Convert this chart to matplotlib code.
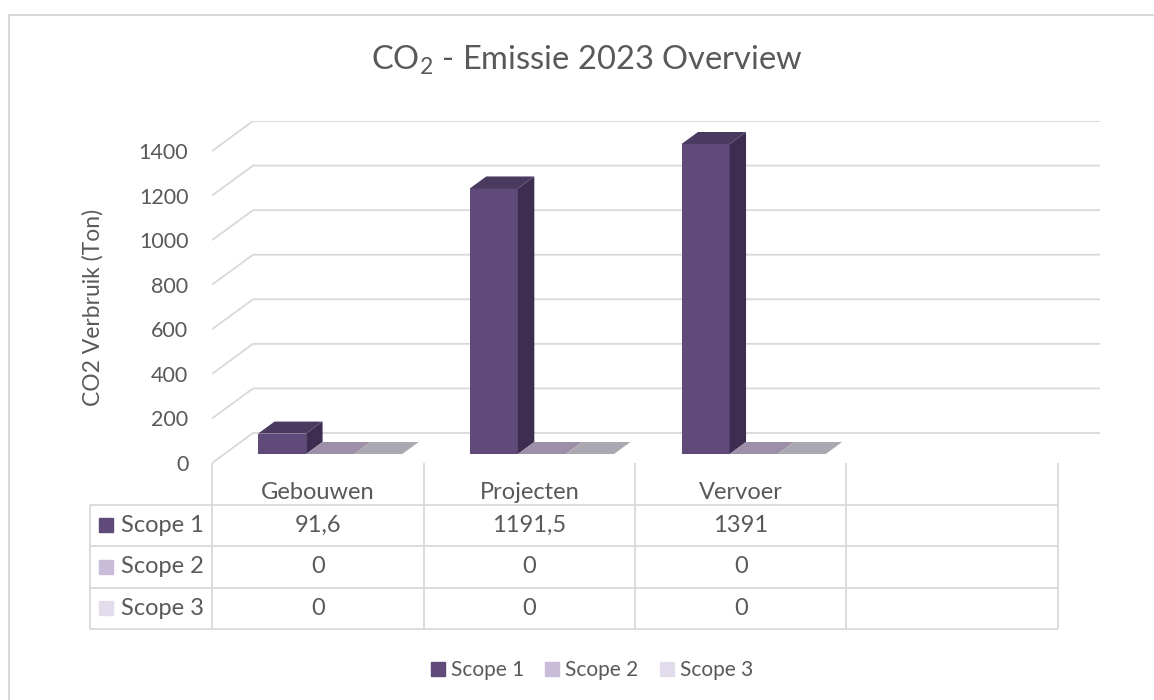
import matplotlib
matplotlib.use('Agg')
import matplotlib.pyplot as plt
from matplotlib.patches import Polygon, Patch
from matplotlib.lines import Line2D

plt.rcParams['font.family'] = ['Lato', 'DejaVu Sans']
plt.rcParams['mathtext.fontset'] = 'custom'
plt.rcParams['mathtext.rm'] = 'Lato'
plt.rcParams['mathtext.it'] = 'Lato:italic'

# data
categories = ['Gebouwen', 'Projecten', 'Vervoer']
series = ['Scope 1', 'Scope 2', 'Scope 3']
scope1 = [91.6, 1191.5, 1391]
scope2 = [0, 0, 0]
scope3 = [0, 0, 0]
yticks = [0, 200, 400, 600, 800, 1000, 1200, 1400]

values = [scope1, scope2, scope3]

# styles
front_c = ['#5f4a79', '#c8bcd9', '#e3dcec']
side_c = ['#3d2e51', '#9d8fa8', '#aca8b1']
top_c = ['#4a3a60', '#9d8fa8', '#aca8b1']
txt = '#595959'
grid = '#d9d9d9'

W, H = 1154, 700
fig = plt.figure(figsize=(W / 100, H / 100), dpi=100)


def fx(px):
    return px / W


def fy(py):
    return 1 - py / H


nslot = 4           # excel leaves an empty 4th category slot
ymax = 1400
DX = 41 / 211.5     # depth offset in category units
DY = 30 / (312 / ymax)  # depth offset in data units

ax = fig.add_axes([fx(212), fy(463), fx(1100) - fx(212), fy(121) - fy(463)])
ax.set_xlim(0, nslot + DX)
ax.set_ylim(0, ymax + DY)
for sp in ax.spines.values():
    sp.set_visible(False)
ax.set_xticks([])
ax.set_yticks(yticks)
ax.set_yticklabels([str(v) for v in yticks])
ax.tick_params(axis='y', length=0, pad=17, labelsize=15.5, labelcolor=txt)

# back wall gridlines with the diagonal side wall
for v in yticks:
    ax.plot([0, DX, nslot + DX], [v, v + DY, v + DY], color=grid, lw=1.3,
            zorder=1, solid_capstyle='butt')

# pseudo 3d bars
bw = 0.227
off0 = (1 - 3 * bw) / 2
d0, d1 = 0.3, 0.7
ddx = (d1 - d0) * DX
ddy = (d1 - d0) * DY
for s, vals in enumerate(values):
    for i, v in enumerate(vals):
        x0 = i + off0 + s * bw + d0 * DX
        y0 = d0 * DY
        top = y0 + v
        if v > 0:
            ax.bar(x0, v, bw, bottom=y0, align='edge', color=front_c[s],
                   zorder=3)
            ax.add_patch(Polygon([(x0 + bw, y0), (x0 + bw + ddx, y0 + ddy),
                                  (x0 + bw + ddx, top + ddy), (x0 + bw, top)],
                                 closed=True, color=side_c[s], zorder=3, lw=0))
        ax.add_patch(Polygon([(x0, top), (x0 + bw, top),
                              (x0 + bw + ddx, top + ddy), (x0 + ddx, top + ddy)],
                             closed=True, color=top_c[s], zorder=3, lw=0))

fig.text(fx(93), fy(307), 'CO2 Verbruik (Ton)', rotation=90, ha='center',
         va='center', fontsize=16.5, color=txt)

fig.text(fx(587), fy(60), r'CO$_2$ - Emissie 2023 Overview', ha='center',
         va='center', fontsize=23.5, color=txt)

# data table
lw_units = (212 - 90) / 211.5
tax = fig.add_axes([fx(90), fy(629), fx(1058) - fx(90), fy(463) - fy(629)])
tax.set_xlim(-lw_units, nslot)
tax.set_ylim(3, -1)
tax.axis('off')
tax.hlines([0, 1, 2, 3], -lw_units, nslot, color=grid, lw=1.3, clip_on=False)
tax.vlines(range(nslot + 1), -1, 3, color=grid, lw=1.3, clip_on=False)
tax.vlines(-lw_units, 0, 3, color=grid, lw=1.3, clip_on=False)

for i, c in enumerate(categories):
    tax.text(i + 0.5, -0.3, c, ha='center', va='center', fontsize=17,
             color=txt)


def fmt(v):
    return ('%g' % v).replace('.', ',')


for s, name in enumerate(series):
    tax.plot(-0.501, s + 0.5, marker='s', ms=10, color=front_c[s], lw=0,
             clip_on=False)
    tax.text(-0.43, s + 0.5, name, ha='left', va='center', fontsize=17,
             color=txt)
    for i, v in enumerate(values[s]):
        tax.text(i + 0.5, s + 0.5, fmt(v), ha='center', va='center',
                 fontsize=17, color=txt)

handles = [Patch(color=front_c[s]) for s in range(len(series))]
fig.legend(handles, series, loc='center', bbox_to_anchor=(fx(592), fy(670)),
           ncol=3, frameon=False, fontsize=15, handlelength=0.67,
           handleheight=0.67, handletextpad=0.3, columnspacing=1.0,
           labelcolor=txt)

# chart border (only top/left visible in the crop)
fig.add_artist(Line2D([fx(8.5), fx(8.5)], [0, fy(14.5)], color=grid, lw=1.5))
fig.add_artist(Line2D([fx(8.5), 1], [fy(14.5), fy(14.5)], color=grid, lw=1.5))

fig.savefig('out.png', dpi=100)
